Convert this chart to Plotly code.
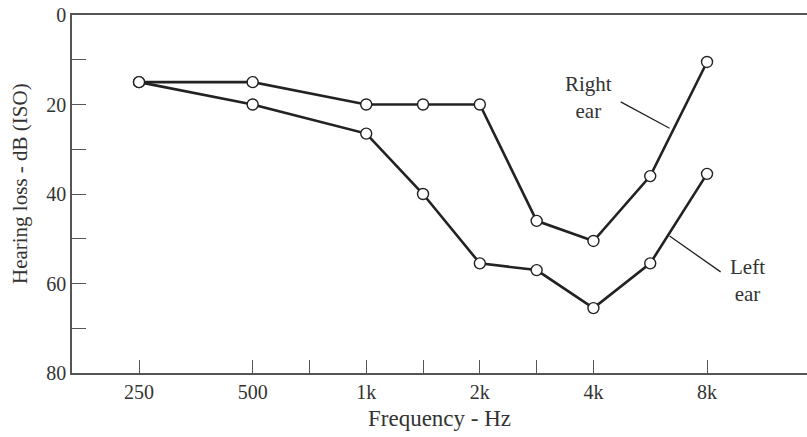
import plotly.graph_objects as go

# audiogram frequencies, plotted on an octave scale (half octaves for 1.5k, 3k, 6k)
freqs = [250, 500, 1000, 1500, 2000, 3000, 4000, 6000, 8000]
octave_pos = [0, 1, 2, 2.5, 3, 3.5, 4, 4.5, 5]

right_ear = [15, 15, 20, 20, 20, 46, 50.5, 36, 10.5]
left_ear = [15, 20, 26.5, 40, 55.5, 57, 65.5, 55.5, 35.5]

x_tick_pos = [0, 1, 2, 3, 4, 5]
x_tick_text = ["250", "500", "1k", "2k", "4k", "8k"]
x_minor_pos = [1.5, 2.5, 3.5]
y_tick_vals = [0, 20, 40, 60, 80]

FONT = "Liberation Serif"
INK = "#222222"
AXIS = "#555555"
TEXT = "#333333"

fig = go.Figure()
for name, vals in [("Right ear", right_ear), ("Left ear", left_ear)]:
    fig.add_trace(go.Scatter(
        x=octave_pos, y=vals, name=name, mode="lines+markers",
        line=dict(color=INK, width=2.6),
        marker=dict(symbol="circle", size=11, color="white",
                    line=dict(color=INK, width=1.4)),
        customdata=freqs,
        hovertemplate="%{customdata} Hz: %{y} dB<extra>" + name + "</extra>",
    ))

# labels with pointer lines
fig.add_annotation(x=3.96, y=18.5, text="Right<br>ear", showarrow=False,
                   font=dict(family=FONT, size=21, color=TEXT))
fig.add_annotation(x=5.36, y=59.4, text="Left<br>ear", showarrow=False,
                   font=dict(family=FONT, size=21, color=TEXT))
fig.add_shape(type="line", x0=4.24, y0=19.4, x1=4.67, y1=25.3,
              line=dict(color=INK, width=1.3))
fig.add_shape(type="line", x0=4.67, y0=49.4, x1=5.12, y1=57.4,
              line=dict(color=INK, width=1.3))

# y title as annotation so it can sit slightly above the plot centre
fig.add_annotation(xref="paper", yref="paper", x=-0.0707, y=0.528,
                   text="Hearing loss - dB (ISO)", textangle=-90,
                   showarrow=False, xanchor="center", yanchor="middle",
                   font=dict(family=FONT, size=21, color=TEXT))

fig.update_layout(
    width=807, height=437,
    margin=dict(l=72, r=0, t=15, b=64),
    paper_bgcolor="white", plot_bgcolor="white",
    showlegend=False,
    font=dict(family=FONT, size=19, color=TEXT),
)
fig.update_xaxes(
    range=[-0.59, 5.88], showgrid=False, zeroline=False,
    showline=True, linecolor=AXIS, linewidth=1.6, mirror=True,
    tickmode="array", tickvals=x_tick_pos, ticktext=x_tick_text,
    tickfont=dict(family=FONT, size=20, color=TEXT),
    ticks="inside", ticklen=13, tickcolor=AXIS, tickwidth=1.3,
    minor=dict(tickmode="array", tickvals=x_minor_pos, ticks="inside",
               ticklen=13, tickcolor=AXIS, tickwidth=1.3, showgrid=False),
    title=dict(text="Frequency - Hz", standoff=8),
)
fig.update_yaxes(
    range=[80, 0], showgrid=False, zeroline=False,
    showline=True, linecolor=AXIS, linewidth=1.6,
    tickmode="array", tickvals=y_tick_vals,
    tickfont=dict(family=FONT, size=20, color=TEXT),
    ticks="inside", ticklen=14, tickcolor=AXIS, tickwidth=1.3,
    minor=dict(tick0=0, dtick=10, ticks="inside", ticklen=14,
               tickcolor=AXIS, tickwidth=1.3, showgrid=False),
)

# drop the default 8px page margin so the figure fills the window exactly
fig.write_html("out.html", config={"displayModeBar": False},
               post_script="document.body.style.margin='0';")
